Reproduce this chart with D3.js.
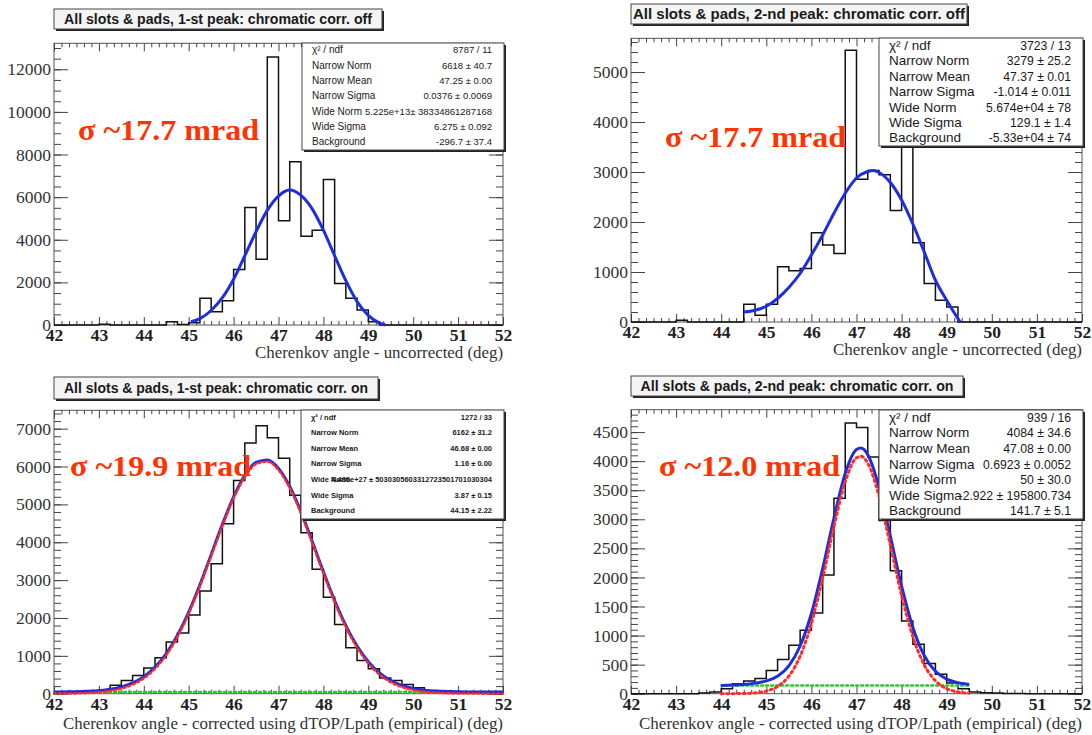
<!DOCTYPE html>
<html>
<head>
<meta charset="utf-8">
<title>Cherenkov angle, all slots and pads</title>
<script src="https://cdn.jsdelivr.net/npm/d3@7"></script>
<style>
  body { margin: 0; background: #fff; }
</style>
</head>
<body>
<div id="chart"></div>
<script>
// histograms: 40 bins of 0.25 deg from 42 to 52 deg
var binLo = 42, binW = 0.25;
var xTicks = [42, 43, 44, 45, 46, 47, 48, 49, 50, 51, 52];

var titles = [
  'All slots & pads, 1-st peak: chromatic corr. off',
  'All slots & pads, 2-nd peak: chromatic corr. off',
  'All slots & pads, 1-st peak: chromatic corr. on',
  'All slots & pads, 2-nd peak: chromatic corr. on'
];
var sigmaLabels = ['σ ~17.7 mrad', 'σ ~17.7 mrad', 'σ ~19.9 mrad', 'σ ~12.0 mrad'];
var xTitles = [
  'Cherenkov angle - uncorrected (deg)',
  'Cherenkov angle - uncorrected (deg)',
  'Cherenkov angle - corrected using dTOP/Lpath (empirical) (deg)',
  'Cherenkov angle - corrected using dTOP/Lpath (empirical) (deg)'
];

// 1st peak, chromatic correction off
var p1Bins = [0, 0, 0, 0, 30, 0, 0, 0, 0, 0, 150, 20, 100, 1250, 625, 1140, 2610, 5515, 3090, 12580,
  4890, 7660, 4170, 4450, 6830, 1950, 1250, 700, 150, 0, 0, 0, 0, 0, 0, 0, 0, 0, 0, 0];
var p1FitX = [45.05, 45.25, 45.5, 45.75, 46, 46.25, 46.5, 46.75, 47, 47.25, 47.5, 47.75, 48, 48.25, 48.5, 48.75, 49, 49.25, 49.38];
var p1FitY = [150, 300, 680, 1280, 2150, 3250, 4380, 5380, 6050, 6330, 6080, 5450, 4450, 3250, 2080, 1100, 450, 90, 0];
var p1YTicks = [0, 2000, 4000, 6000, 8000, 10000, 12000];
var p1Stats = [
  ['χ² / ndf', '8787 / 11'], ['Narrow Norm', '6618 ± 40.7'], ['Narrow Mean', '47.25 ± 0.00'],
  ['Narrow Sigma', '0.0376 ± 0.0069'], ['Wide Norm', '5.225e+13± 38334861287168'],
  ['Wide Sigma', '6.275 ± 0.092'], ['Background', '-296.7 ± 37.4']
];

// 2nd peak, chromatic correction off
var p2Bins = [0, 0, 0, 0, 33, 0, 0, 0, 0, 0, 355, 134, 355, 1105, 1025, 1070, 1787, 1540, 1372, 5435,
  2858, 3032, 2945, 2230, 3900, 1586, 770, 435, 300, 0, 0, 0, 0, 0, 0, 0, 0, 0, 0, 0];
var p2FitX = [44.5, 44.75, 45, 45.25, 45.5, 45.75, 46, 46.25, 46.5, 46.75, 47, 47.25, 47.37, 47.5, 47.75, 48, 48.25, 48.5, 48.75, 49, 49.25, 49.3];
var p2FitY = [200, 235, 315, 470, 690, 970, 1340, 1740, 2175, 2575, 2880, 3010, 3030, 2990, 2790, 2440, 1960, 1405, 835, 435, 67, 0];
var p2YTicks = [0, 1000, 2000, 3000, 4000, 5000];
var p2Stats = [
  ['χ² / ndf', '3723 / 13'], ['Narrow Norm', '3279 ± 25.2'], ['Narrow Mean', '47.37 ± 0.01'],
  ['Narrow Sigma', '-1.014 ± 0.011'], ['Wide Norm', '5.674e+04 ± 78'],
  ['Wide Sigma', '129.1 ± 1.4'], ['Background', '-5.33e+04 ± 74']
];

// 1st peak, chromatic correction on
var p3Bins = [20, 30, 50, 60, 90, 220, 350, 480, 680, 950, 1365, 1600, 2080, 2710, 3430, 4490, 5630, 6620, 7080, 6760,
  6220, 5240, 4250, 3290, 2550, 1830, 1215, 880, 660, 415, 350, 245, 160, 70, 40, 30, 20, 10, 10, 5];
var p3FitX = [42, 42.25, 42.5, 42.75, 43, 43.25, 43.5, 43.75, 44, 44.25, 44.5, 44.75, 45, 45.25, 45.5, 45.75, 46, 46.25, 46.5, 46.75,
  47, 47.25, 47.5, 47.75, 48, 48.25, 48.5, 48.75, 49, 49.25, 49.5, 49.75, 50, 50.25, 50.5, 50.75, 51, 51.25, 51.5, 51.75, 52];
var p3FitTotal = [46, 48, 52, 62, 81, 116, 178, 283, 450, 703, 1061, 1546, 2156, 2878, 3672, 4471, 5200, 5768, 6109, 6173,
  5951, 5474, 4807, 4026, 3221, 2462, 1800, 1259, 846, 549, 348, 218, 139, 94, 69, 56, 50, 47, 46, 45, 44];
var p3FitNarrow = [2, 4, 8, 18, 37, 72, 134, 239, 406, 659, 1017, 1502, 2112, 2834, 3628, 4427, 5156, 5724, 6065, 6129,
  5907, 5430, 4763, 3982, 3177, 2418, 1756, 1215, 802, 505, 304, 174, 95, 50, 25, 12, 6, 3, 2, 1, 0];
var p3BgX = [42, 52];
var p3BgY = [44.15, 44.15];
var p3YTicks = [0, 1000, 2000, 3000, 4000, 5000, 6000, 7000];
var p3Stats = [
  ['χ² / ndf', '1272 / 33'], ['Narrow Norm', '6162 ± 31.2'], ['Narrow Mean', '46.68 ± 0.00'],
  ['Narrow Sigma', '1.16 ± 0.00'], ['Wide Norm', '4.486e+27 ± 5030305603312723501701030304'],
  ['Wide Sigma', '3.87 ± 0.15'], ['Background', '44.15 ± 2.22']
];

// 2nd peak, chromatic correction on
var p4Bins = [0, 0, 0, 0, 0, 0, 10, 30, 85, 170, 220, 260, 400, 590, 835, 1090, 1390, 2040, 3360, 4655,
  4580, 4070, 2980, 2115, 1250, 850, 520, 335, 185, 85, 30, 15, 10, 5, 5, 0, 0, 0, 0, 0];
var p4FitX = [44, 44.25, 44.5, 44.75, 45, 45.25, 45.5, 45.75, 46, 46.25, 46.5, 46.75, 47, 47.1, 47.25, 47.5, 47.75, 48, 48.25, 48.5, 48.75, 49, 49.25, 49.5];
var p4FitTotal = [140, 148, 160, 182, 220, 300, 480, 820, 1380, 2150, 3020, 3790, 4200, 4225, 4110, 3550, 2710, 1850, 1140, 660, 385, 250, 190, 160];
var p4FitNarrow = [0, 1, 4, 14, 45, 124, 302, 645, 1210, 1990, 2875, 3645, 4057, 4083, 3963, 3398, 2557, 1689, 979, 498, 223, 87, 30, 9];
var p4BgX = [44, 49.5];
var p4BgY = [141.7, 141.7];
var p4YTicks = [0, 500, 1000, 1500, 2000, 2500, 3000, 3500, 4000, 4500];
var p4Stats = [
  ['χ² / ndf', '939 / 16'], ['Narrow Norm', '4084 ± 34.6'], ['Narrow Mean', '47.08 ± 0.00'],
  ['Narrow Sigma', '0.6923 ± 0.0052'], ['Wide Norm', '50 ± 30.0'],
  ['Wide Sigma', '-2.922 ± 195800.734'], ['Background', '141.7 ± 5.1']
];

var blue = '#1e2ed8', red = '#ff2a2a', green = '#2ec82e';
var serif = '"Liberation Serif", "DejaVu Serif", serif';
var sans = '"Liberation Sans", Arial, sans-serif';

// layout of the four pads (pixels)
var panels = [
  { left: 54, right: 503, top: 43.3, bottom: 325, ymax: 13220, yTicks: p1YTicks, yMinor: 500,
    bins: p1Bins, stats: p1Stats, statFs: 10, valFs: 9.5, statW: 'normal',
    curves: [{ x: p1FitX, y: p1FitY, color: blue, width: 3 }],
    tBox: [54, 382, 9, 29], tW: 308, sBox: [302, 504, 43, 150], sig: [78, 140], xtY: 358, xtW: 248 },
  { left: 631, right: 1082, top: 38.3, bottom: 322, ymax: 5675, yTicks: p2YTicks, yMinor: 200,
    bins: p2Bins, stats: p2Stats, statFs: 13.5, valFs: 12.2, statW: 'normal',
    curves: [{ x: p2FitX, y: p2FitY, color: blue, width: 3 }],
    tBox: [631, 967, 4, 24], tW: 332, sBox: [879, 1083, 38, 146], sig: [665, 147], xtY: 355, xtW: 249 },
  { left: 54, right: 503, top: 410.3, bottom: 693.7, ymax: 7485, yTicks: p3YTicks, yMinor: 200,
    bins: p3Bins, stats: p3Stats, statFs: 7.5, valFs: 7.5, statW: 'bold',
    curves: [{ x: p3BgX, y: p3BgY, color: green, width: 2.5, dash: '2,3' },
             { x: p3FitX, y: p3FitTotal, color: blue, width: 3 },
             { x: p3FitX, y: p3FitNarrow, color: red, width: 2.5, dash: '2,3' }],
    tBox: [54, 378, 377, 399], tW: 304, sBox: [301, 504, 410, 519], sig: [70, 476], xtY: 729, xtW: 440 },
  { left: 631, right: 1082, top: 409.7, bottom: 693.7, ymax: 4885, yTicks: p4YTicks, yMinor: 100,
    bins: p4Bins, stats: p4Stats, statFs: 13.5, valFs: 12.2, statW: 'normal',
    curves: [{ x: p4BgX, y: p4BgY, color: green, width: 2.5, dash: '2,3' },
             { x: p4FitX, y: p4FitTotal, color: blue, width: 3 },
             { x: p4FitX, y: p4FitNarrow, color: red, width: 3, dash: '2,3.5' }],
    tBox: [631, 963, 376, 396], tW: 313, sBox: [879, 1083, 410, 519], sig: [659, 476], xtY: 729, xtW: 443 }
];

var svg = d3.select('#chart').append('svg')
  .attr('width', 1092)
  .attr('height', 735);

// x minor ticks: 6 subdivisions per degree
var xMinor = [];
for (var i = 42; i < 52; i++) {
  for (var k = 1; k < 6; k++) xMinor.push(i + k / 6);
}

function styleAxis(sel) {
  sel.select('.domain').remove();
  sel.selectAll('line').attr('stroke', '#444');
}

function box(g, b, fill) {
  // pave with ROOT-like shadow on the right and bottom
  g.append('rect')
    .attr('x', b[0] + 2).attr('y', b[2] + 2)
    .attr('width', b[1] - b[0]).attr('height', b[3] - b[2])
    .attr('fill', '#222');
  g.append('rect')
    .attr('x', b[0]).attr('y', b[2])
    .attr('width', b[1] - b[0]).attr('height', b[3] - b[2])
    .attr('fill', fill).attr('stroke', '#444').attr('stroke-width', 1);
}

panels.forEach(function (p, n) {
  var x = d3.scaleLinear().domain([42, 52]).range([p.left, p.right]);
  var y = d3.scaleLinear().domain([0, p.ymax]).range([p.bottom, p.top]);
  var g = svg.append('g');

  g.append('rect')
    .attr('x', p.left).attr('y', p.top)
    .attr('width', p.right - p.left).attr('height', p.bottom - p.top)
    .attr('fill', 'none').attr('stroke', '#555');

  var yMinor = d3.range(0, p.ymax, p.yMinor);

  // left axis with labels
  g.append('g')
    .attr('transform', 'translate(' + p.left + ',0)')
    .call(d3.axisLeft(y).tickValues(p.yTicks).tickFormat(d3.format('d'))
      .tickSizeInner(-14).tickSizeOuter(0).tickPadding(3))
    .call(styleAxis)
    .attr('font-family', serif).attr('font-size', 17.5)
    .selectAll('text').attr('fill', '#333');
  g.append('g')
    .attr('transform', 'translate(' + p.left + ',0)')
    .call(d3.axisLeft(y).tickValues(yMinor).tickFormat('').tickSizeInner(-7).tickSizeOuter(0))
    .call(styleAxis);
  // right axis (ticks only)
  g.append('g')
    .attr('transform', 'translate(' + p.right + ',0)')
    .call(d3.axisRight(y).tickValues(p.yTicks).tickFormat('').tickSizeInner(-14).tickSizeOuter(0))
    .call(styleAxis);
  g.append('g')
    .attr('transform', 'translate(' + p.right + ',0)')
    .call(d3.axisRight(y).tickValues(yMinor).tickFormat('').tickSizeInner(-7).tickSizeOuter(0))
    .call(styleAxis);

  // bottom axis with labels
  g.append('g')
    .attr('transform', 'translate(0,' + p.bottom + ')')
    .call(d3.axisBottom(x).tickValues(xTicks).tickFormat(d3.format('d'))
      .tickSizeInner(-8).tickSizeOuter(0).tickPadding(3.5))
    .call(styleAxis)
    .attr('font-family', serif).attr('font-size', 17.5).attr('font-weight', 'bold')
    .selectAll('text').attr('fill', '#222');
  g.append('g')
    .attr('transform', 'translate(0,' + p.bottom + ')')
    .call(d3.axisBottom(x).tickValues(xMinor).tickFormat('').tickSizeInner(-4).tickSizeOuter(0))
    .call(styleAxis);
  // top axis (ticks only)
  g.append('g')
    .attr('transform', 'translate(0,' + p.top + ')')
    .call(d3.axisTop(x).tickValues(xTicks).tickFormat('').tickSizeInner(-8).tickSizeOuter(0))
    .call(styleAxis);
  g.append('g')
    .attr('transform', 'translate(0,' + p.top + ')')
    .call(d3.axisTop(x).tickValues(xMinor).tickFormat('').tickSizeInner(-4).tickSizeOuter(0))
    .call(styleAxis);

  // histogram outline
  var pts = [[binLo, 0]];
  p.bins.forEach(function (v, i) {
    pts.push([binLo + i * binW, v]);
    pts.push([binLo + (i + 1) * binW, v]);
  });
  pts.push([binLo + p.bins.length * binW, 0]);
  g.append('path')
    .attr('d', d3.line().x(function (d) { return x(d[0]); }).y(function (d) { return y(d[1]); })(pts))
    .attr('fill', 'none').attr('stroke', '#111').attr('stroke-width', 1.5);

  // fit curves
  var fitLine = d3.line().curve(d3.curveMonotoneX)
    .x(function (d) { return x(d[0]); })
    .y(function (d) { return y(d[1]); });
  p.curves.forEach(function (c) {
    g.append('path')
      .attr('d', fitLine(d3.zip(c.x, c.y)))
      .attr('fill', 'none')
      .attr('stroke', c.color)
      .attr('stroke-width', c.width)
      .attr('stroke-linecap', c.dash ? 'round' : 'butt')
      .attr('stroke-dasharray', c.dash || null);
  });

  // statistics box
  var s = p.sBox;
  box(g, s, '#fff');
  var rowH = (s[3] - s[2]) / p.stats.length;
  p.stats.forEach(function (r, i) {
    var yy = s[2] + (i + 0.45) * rowH + 0.36 * p.statFs;
    g.append('text').attr('x', s[0] + 10).attr('y', yy)
      .attr('font-family', sans).attr('font-size', p.statFs)
      .attr('font-weight', p.statW)
      .attr('fill', '#1a1a1a').text(r[0]);
    g.append('text').attr('x', s[1] - 12).attr('y', yy)
      .attr('text-anchor', 'end')
      .attr('font-family', sans).attr('font-size', p.valFs)
      .attr('font-weight', p.statW)
      .attr('fill', '#1a1a1a').text(r[1]);
  });

  // title pave
  var t = p.tBox;
  box(g, t, '#f4f4f4');
  g.append('text')
    .attr('x', (t[0] + t[1]) / 2).attr('y', (t[2] + t[3]) / 2 + 5)
    .attr('text-anchor', 'middle')
    .attr('font-family', sans).attr('font-size', 14).attr('font-weight', 'bold')
    .attr('fill', '#1a1a1a')
    .attr('textLength', p.tW).attr('lengthAdjust', 'spacingAndGlyphs')
    .text(titles[n]);

  // x axis title
  g.append('text')
    .attr('x', p.right).attr('y', p.xtY)
    .attr('text-anchor', 'end')
    .attr('font-family', serif).attr('font-size', 17)
    .attr('fill', '#333')
    .attr('textLength', p.xtW).attr('lengthAdjust', 'spacingAndGlyphs')
    .text(xTitles[n]);

  // resolution annotation
  g.append('text')
    .attr('x', p.sig[0]).attr('y', p.sig[1])
    .attr('font-family', serif).attr('font-size', 30).attr('font-weight', 'bold')
    .attr('fill', '#ff3300')
    .attr('textLength', 181).attr('lengthAdjust', 'spacingAndGlyphs')
    .text(sigmaLabels[n]);
});
</script>
</body>
</html>
